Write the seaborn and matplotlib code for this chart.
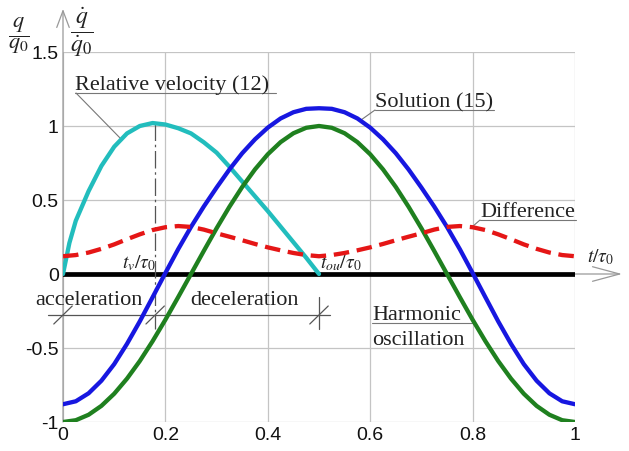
import matplotlib
matplotlib.use("Agg")
import matplotlib.pyplot as plt
import pandas as pd
import seaborn as sns

# ---------------- data ----------------
t = [0.000, 0.025, 0.050, 0.075, 0.100, 0.125, 0.150, 0.175, 0.200, 0.225,
     0.250, 0.275, 0.300, 0.325, 0.350, 0.375, 0.400, 0.425, 0.450, 0.475,
     0.500, 0.525, 0.550, 0.575, 0.600, 0.625, 0.650, 0.675, 0.700, 0.725,
     0.750, 0.775, 0.800, 0.825, 0.850, 0.875, 0.900, 0.925, 0.950, 0.975,
     1.000]
harmonic = [-1.000, -0.988, -0.951, -0.891, -0.809, -0.707, -0.588, -0.454, -0.309, -0.156,
            0.000, 0.156, 0.309, 0.454, 0.588, 0.707, 0.809, 0.891, 0.951, 0.988,
            1.000, 0.988, 0.951, 0.891, 0.809, 0.707, 0.588, 0.454, 0.309, 0.156,
            0.000, -0.156, -0.309, -0.454, -0.588, -0.707, -0.809, -0.891, -0.951, -0.988,
            -1.000]
difference = [0.120, 0.128, 0.145, 0.170, 0.200, 0.235, 0.268, 0.297, 0.316, 0.324,
              0.318, 0.300, 0.275, 0.252, 0.228, 0.203, 0.180, 0.160, 0.142, 0.128,
              0.120, 0.128, 0.142, 0.160, 0.180, 0.203, 0.228, 0.252, 0.275, 0.300,
              0.318, 0.324, 0.316, 0.297, 0.268, 0.235, 0.200, 0.170, 0.145, 0.128,
              0.120]
solution = [-0.880, -0.860, -0.806, -0.721, -0.609, -0.472, -0.320, -0.157, 0.007, 0.168,
            0.318, 0.456, 0.584, 0.706, 0.816, 0.910, 0.989, 1.051, 1.093, 1.116,
            1.120, 1.116, 1.093, 1.051, 0.989, 0.910, 0.816, 0.706, 0.584, 0.456,
            0.318, 0.168, 0.007, -0.157, -0.320, -0.472, -0.609, -0.721, -0.806, -0.860,
            -0.880]
t_vel = [0.0, 0.0125, 0.025, 0.05, 0.075, 0.1, 0.125, 0.15, 0.175, 0.2, 0.225,
         0.25, 0.275, 0.3, 0.325, 0.35, 0.375, 0.4, 0.425, 0.45, 0.475, 0.5]
rel_velocity = [0.0, 0.21, 0.36, 0.56, 0.73, 0.86, 0.95, 1.0, 1.02, 1.01, 0.985,
                0.95, 0.89, 0.82, 0.725, 0.625, 0.525, 0.425, 0.32, 0.215, 0.11, 0.0]

x_ticks = [0, 0.2, 0.4, 0.6, 0.8, 1]
x_tick_labels = ["0", "0.2", "0.4", "0.6", "0.8", "1"]
y_ticks = [-1, -0.5, 0, 0.5, 1, 1.5]
y_tick_labels = ["-1", "-0.5", "0", "0.5", "1", "1.5"]
t_v = 0.18      # end of acceleration
t_ou = 0.5      # end of deceleration

# ---------------- styling ----------------
sns.set_style("white")
plt.rcParams["font.family"] = ["Liberation Sans", "DejaVu Sans"]
plt.rcParams["mathtext.fontset"] = "stix"

C_CYAN = "#22BDBD"
C_BLUE = "#1717E0"
C_GREEN = "#1F801F"
C_RED = "#E51616"
C_GRID = "#C4C4C4"
C_TXT = "#222222"
SERIF = ["Liberation Serif", "DejaVu Serif"]

W, H = 629, 452
fig = plt.figure(figsize=(W / 100, H / 100), dpi=100)
X0, X1, YT, YB = 63, 575, 53, 423
ax = fig.add_axes([X0 / W, (H - YB) / H, (X1 - X0) / W, (YB - YT) / H])
ax.set_xlim(0, 1)
ax.set_ylim(-1, 1.5)


def P(px, py):
    """pixel position of the reference -> data coordinates"""
    return ((px - X0) / (X1 - X0), (275 - py) / 148.0)


# grid
ax.set_xticks(x_ticks)
ax.set_xticklabels(x_tick_labels)
ax.set_yticks(y_ticks)
ax.set_yticklabels(y_tick_labels)
ax.grid(True, color=C_GRID, lw=0.9)
ax.set_axisbelow(True)
for s in ax.spines.values():
    s.set_visible(False)
ax.tick_params(length=0, labelsize=14, labelcolor="#111111", pad=3)

# zero axis (black)
ax.axhline(0, xmin=0, xmax=1, color="black", lw=3.4, zorder=2)

df = pd.DataFrame({"t": t, "harmonic": harmonic, "solution": solution,
                   "difference": difference})
dv = pd.DataFrame({"t": t_vel, "rel": rel_velocity})

common = dict(lw=3.1, ax=ax, estimator=None, sort=False,
              solid_joinstyle="round", solid_capstyle="round")
sns.lineplot(data=dv, x="t", y="rel", color=C_CYAN, zorder=3, **common)
sns.lineplot(data=df, x="t", y="harmonic", color=C_GREEN, zorder=3, **common)
sns.lineplot(data=df, x="t", y="solution", color=C_BLUE, zorder=3, **common)
sns.lineplot(data=df, x="t", y="difference", color=C_RED, zorder=4, lw=3.1,
             ax=ax, estimator=None, sort=False)
ax.lines[-1].set_dashes([3.6, 1.8])
ax.lines[-1].set_dash_joinstyle("round")
ax.set_xlabel("")
ax.set_ylabel("")

# axis arrows
ax.annotate("", xy=(0, P(0, 10)[1]), xytext=(0, -1),
            arrowprops=dict(arrowstyle="->,head_length=0.8,head_width=0.3",
                            color="#999999", lw=0.9, mutation_scale=15,
                            shrinkA=0, shrinkB=0),
            annotation_clip=False, zorder=1)
ax.annotate("", xy=(P(622, 0)[0], 0), xytext=(1, 0),
            arrowprops=dict(arrowstyle="->,head_length=1.3,head_width=0.35",
                            color="#999999", lw=0.9, mutation_scale=15,
                            shrinkA=0, shrinkB=0),
            annotation_clip=False, zorder=1)

# vertical markers
gline = dict(color="#555555", lw=0.9, clip_on=False, zorder=2)
ax.plot([t_v, t_v], [P(0, 124)[1], P(0, 330)[1]], ls=(0, (14, 3, 2, 3)), **gline)
ax.plot([t_ou, t_ou], [P(0, 298)[1], P(0, 330)[1]], **gline)
# dimension line with slash ticks
ax.plot([P(48, 0)[0], P(330, 0)[0]], [P(0, 316)[1]] * 2, **gline)
for tt in (0.0, t_v, t_ou):
    ax.plot([tt - 0.018, tt + 0.018], [P(0, 325)[1], P(0, 307)[1]], **gline)

# text annotations
tkw = dict(family=SERIF, color=C_TXT, fontsize=16)
lkw = dict(color="#777777", lw=0.8, clip_on=False, zorder=2)

x, y = P(75, 90)
ax.text(x, y, "Relative velocity (12)", ha="left", va="baseline", **tkw)
ax.plot([P(75, 0)[0], P(276, 0)[0]], [P(0, 94)[1]] * 2, **lkw)
ax.plot([P(76, 0)[0], P(122, 0)[0]], [P(0, 94)[1], P(0, 141)[1]], **lkw)

x, y = P(375, 107)
ax.text(x, y, "Solution (15)", ha="left", va="baseline", **tkw)
ax.plot([P(375, 0)[0], P(494, 0)[0]], [P(0, 111)[1]] * 2, **lkw)
ax.plot([P(375, 0)[0], P(361, 0)[0]], [P(0, 111)[1], P(0, 121)[1]], **lkw)

x, y = P(480, 217)
ax.text(x, y, "Difference", ha="left", va="baseline", **tkw)
ax.plot([P(480, 0)[0], P(576, 0)[0]], [P(0, 221)[1]] * 2, **lkw)
ax.plot([P(480, 0)[0], P(472, 0)[0]], [P(0, 221)[1], P(0, 228)[1]], **lkw)

x, y = P(372, 320)
ax.text(x, y, "Harmonic", ha="left", va="baseline", **tkw)
x, y = P(372, 345)
ax.text(x, y, "oscillation", ha="left", va="baseline", **tkw)
ax.plot([P(372, 0)[0], P(472, 0)[0]], [P(0, 324)[1]] * 2, **lkw)

x, y = P(35, 305)
ax.text(x, y, "acceleration", ha="left", va="baseline", **tkw)
x, y = P(190, 305)
ax.text(x, y, "deceleration", ha="left", va="baseline", **tkw)

mkw = dict(color=C_TXT, fontsize=14)
x, y = P(122, 268)
ax.text(x, y, r"$t_v/\tau_0$", ha="left", va="baseline", **mkw)
x, y = P(320, 268)
ax.text(x, y, r"$t_{ou}/\tau_0$", ha="left", va="baseline", **mkw)
x, y = P(587, 262)
ax.text(x, y, r"$t/\tau_0$", ha="left", va="baseline", **mkw)

# axis quantity labels
fig.text(19 / W, 1 - 36 / H, r"$\dfrac{q}{q_0}$", ha="center", va="center",
         color=C_TXT, fontsize=16)
fig.text(82 / W, 1 - 32 / H, r"$\dfrac{\dot{q}}{\dot{q}_0}$", ha="center",
         va="center", color=C_TXT, fontsize=17)

fig.savefig("out.png", dpi=100)
